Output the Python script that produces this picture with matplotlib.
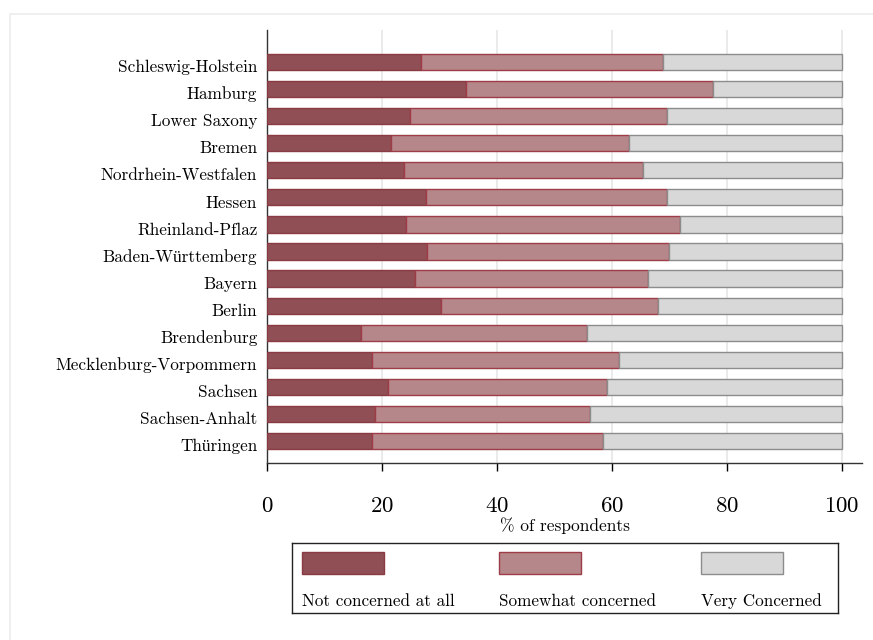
import numpy as np
import matplotlib.pyplot as plt
import matplotlib.transforms as mtransforms
from matplotlib.patches import Rectangle

plt.rcParams['font.family'] = ['cmr10', 'Liberation Serif']
plt.rcParams['axes.formatter.use_mathtext'] = True

states = ["Schleswig-Holstein", "Hamburg", "Lower Saxony", "Bremen",
          "Nordrhein-Westfalen", "Hessen", "Rheinland-Pflaz",
          "Baden-Württemberg", "Bayern", "Berlin", "Brendenburg",
          "Mecklenburg-Vorpommern", "Sachsen", "Sachsen-Anhalt", "Thüringen"]
not_concerned = [26.8, 34.6, 24.8, 21.6, 23.8, 27.7, 24.1, 27.9,
                 25.8, 30.2, 16.3, 18.2, 21.0, 18.7, 18.2]
somewhat = [42.1, 43.0, 44.8, 41.4, 41.6, 41.9, 47.7, 42.1,
            40.4, 37.8, 39.4, 43.1, 38.2, 37.4, 40.2]
very = [100 - a - b for a, b in zip(not_concerned, somewhat)]

labels = ["Not concerned at all", "Somewhat concerned", "Very Concerned"]
fills = ['#904f55', '#b5878a', '#d8d8d8']
edges = ['#8a3a42', '#9e3d47', '#8c8c8c']

fig = plt.figure(figsize=(8.73, 6.4), dpi=100)
# light outer frame
fig.patches.append(Rectangle((10 / 873, -0.01), 1.0, 0.999 - 7 / 640,
                             transform=fig.transFigure, fill=False,
                             edgecolor='#ececec', linewidth=1.2))

ax = fig.add_axes([267 / 873, 1 - 463 / 640, 595 / 873, 433 / 640])
ind = np.arange(len(states))
left = np.zeros(len(states))
for vals, fc, ec in zip([not_concerned, somewhat, very], fills, edges):
    ax.barh(ind, vals, height=0.6, left=left, color=fc, edgecolor=ec,
            linewidth=1.0, zorder=3)
    left += np.array(vals)

ax.set_xlim(0, 103.5)
ax.set_ylim(14.81, -1.18)
ax.set_yticks(ind, states, fontsize=12.4)
ax.tick_params(axis='y', length=0, pad=7)
# labels sit a little below the bar centre, as in the original
shift = mtransforms.ScaledTranslation(0, -4 / 100, fig.dpi_scale_trans)
for lbl in ax.get_yticklabels():
    lbl.set_transform(lbl.get_transform() + shift)
ax.set_xticks(np.arange(0, 101, 20))
ax.tick_params(axis='x', labelsize=16.5, length=6, pad=18, width=1)
ax.set_xlabel('% of respondents', fontsize=12.5, labelpad=1)
ax.grid(axis='x', color='#e6e6e6', linewidth=1.2, zorder=0)
for s in ['top', 'right']:
    ax.spines[s].set_visible(False)
for s in ['left', 'bottom']:
    ax.spines[s].set_linewidth(1.0)
    ax.spines[s].set_color('#333333')

# legend box with swatches above labels
lax = fig.add_axes([292 / 873, 1 - 613 / 640, 546 / 873, 70 / 640])
lax.set_xlim(292, 838)
lax.set_ylim(613, 543)
lax.set_xticks([])
lax.set_yticks([])
for s in lax.spines.values():
    s.set_linewidth(1.0)
    s.set_color('#222222')
for x0, lab, fc, ec in zip([302, 499, 701], labels, fills, edges):
    lax.add_patch(Rectangle((x0, 552), 82, 22, facecolor=fc, edgecolor=ec,
                            linewidth=1.0))
    lax.text(x0, 601, lab, fontsize=12.3, ha='left', va='center')

plt.savefig('out.png', dpi=100)
